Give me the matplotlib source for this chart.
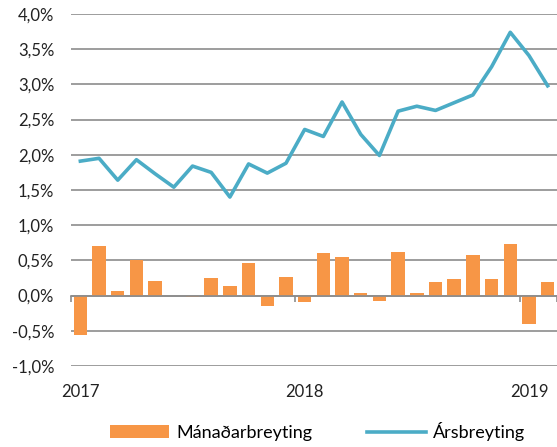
import numpy as np
import matplotlib.pyplot as plt
from matplotlib.transforms import blended_transform_factory

plt.rcParams['font.family'] = ['Lato', 'DejaVu Sans']

# Monthly data Jan 2017 - Feb 2019 (%)
monthly = [-0.56, 0.71, 0.07, 0.50, 0.21, 0.0, -0.02, 0.25, 0.14, 0.47, -0.15, 0.27,
           -0.09, 0.61, 0.55, 0.04, -0.08, 0.62, 0.04, 0.20, 0.24, 0.57, 0.24, 0.74,
           -0.41, 0.19]
annual = [1.91, 1.95, 1.64, 1.93, 1.73, 1.54, 1.84, 1.75, 1.40, 1.87, 1.74, 1.88,
          2.36, 2.26, 2.75, 2.29, 1.99, 2.62, 2.69, 2.63, 2.74, 2.85, 3.25, 3.74,
          3.41, 2.98]
year_labels = ['2017', '2018', '2019']
year_pos = [0, 12, 24]

bar_color = '#F79646'
line_color = '#4BACC6'
grid_color = '#8C8C8C'

x = np.arange(len(monthly))

fig = plt.figure(figsize=(5.57, 4.47), dpi=100)
ax = fig.add_axes([0.1275, 0.1812, 0.8725, 0.7875])

bars = ax.bar(x, monthly, width=0.72, color=bar_color, zorder=2, label='Mánaðarbreyting')
line, = ax.plot(x, annual, color=line_color, lw=2.6, zorder=3, label='Ársbreyting')

ax.set_xlim(-0.5, len(monthly) - 0.5)
ax.set_ylim(-1, 4)

yt = np.arange(-1, 4.01, 0.5)
ax.set_yticks(yt)
ax.set_yticklabels([f'{v:.1f}%'.replace('.', ',') for v in yt], fontsize=12, color='#222222')
ax.tick_params(axis='y', length=0, pad=12)
ax.yaxis.grid(True, color=grid_color, lw=1.2, zorder=0)
ax.set_axisbelow(True)

for s in ['top', 'right', 'left']:
    ax.spines[s].set_visible(False)
ax.spines['bottom'].set_position(('data', 0))
ax.spines['bottom'].set_color(grid_color)
ax.spines['bottom'].set_linewidth(1.2)
ax.set_xticks([-0.5, 11.5, 23.5, 25.5])
ax.set_xticklabels([])
ax.tick_params(axis='x', length=4, width=1.2, color=grid_color, direction='out')

trans = blended_transform_factory(ax.transData, ax.transAxes)
for p, lab in zip(year_pos, year_labels):
    ax.text(p, -0.075, lab, transform=trans, ha='center', va='center', fontsize=12, color='#222222')

fig.legend(handles=[bars, line], loc='center', bbox_to_anchor=(0.57, 0.035), ncol=2,
           frameon=False, fontsize=13, handlelength=3.3, handleheight=0.7,
           handletextpad=0.4, columnspacing=3.0)

fig.savefig('out.png', dpi=100)
